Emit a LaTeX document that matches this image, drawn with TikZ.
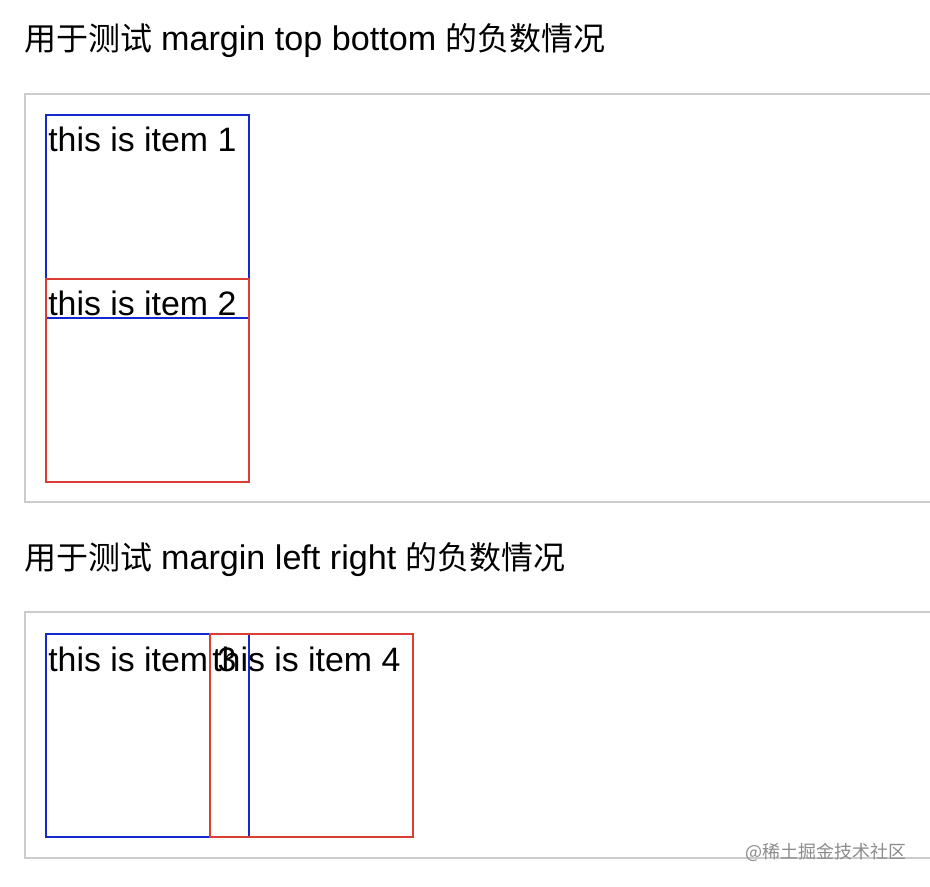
\documentclass[tikz,border=0pt]{standalone}
\usepackage{fontspec}
\setmainfont{Liberation Sans}
\newfontfamily\cjk{Noto Sans CJK SC}
\definecolor{itemblue}{RGB}{20,40,205}
\definecolor{itemred}{RGB}{218,62,52}
\definecolor{framegray}{RGB}{204,204,204}
\definecolor{wmgray}{RGB}{140,140,140}
\newcommand{\lat}[1]{{\fontsize{25.6}{30}\selectfont #1}}
\begin{document}
\begin{tikzpicture}[x=0.75pt,y=-0.75pt,
  frame/.style={draw=framegray,line width=1.5pt,anchor=north west,outer sep=0pt,inner sep=0pt,minimum width=750pt},
  itembox/.style={line width=1.5pt,anchor=north west,outer sep=0pt,inner sep=0pt,minimum width=152.25pt,minimum height=152.25pt},
  itemtext/.style={anchor=base west,inner sep=0pt,font=\fontsize{25.4}{30}\selectfont},
  title/.style={anchor=base west,inner sep=0pt,font=\fontsize{24}{30}\selectfont},
  watermark/.style={anchor=base west,inner sep=0pt,text=wmgray,font=\cjk\fontsize{13.5}{16}\selectfont}]
\useasboundingbox (0,0) rectangle (930,886);
\fill[white] (0,0) rectangle (930,886);
% section 1
\node[title] (h1) at (24,50) {{\cjk 用于测试} \lat{margin top bottom} {\cjk 的负数情况}};
\node[frame,minimum height=306pt] (f1) at (25,94) {};
\node[itembox,draw=itemblue] (b1) at (46,115) {};
\node[itembox,draw=itemred] (b2) at (46,279) {};
\node[itemtext] (t1) at (48,151) {this is item 1};
\node[itemtext] (t2) at (48,315) {this is item 2};
% section 2
\node[title] (h2) at (24,569) {{\cjk 用于测试} \lat{margin left right} {\cjk 的负数情况}};
\node[frame,minimum height=184.5pt] (f2) at (25,612) {};
\node[itembox,draw=itemblue] (b3) at (46,634) {};
\node[itembox,draw=itemred] (b4) at (210,634) {};
\node[itemtext] (t3) at (48,671) {this is item 3};
\node[itemtext] (t4) at (212,671) {this is item 4};
% watermark
\node[watermark] (wm) at (745,858) {@稀土掘金技术社区};
\end{tikzpicture}
\end{document}
